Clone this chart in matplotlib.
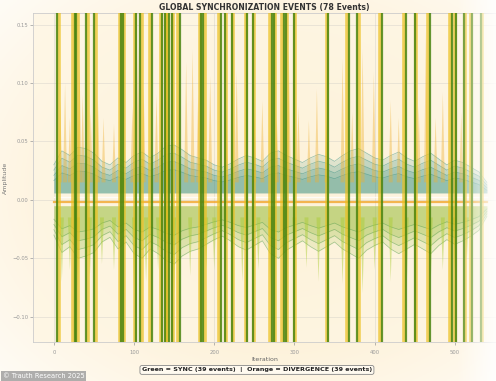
import numpy as np
import matplotlib
matplotlib.use('Agg')
import matplotlib.pyplot as plt

# event positions (iteration)
sync_events = [4, 26, 28, 40, 50, 84, 86, 103, 108, 122, 135, 138, 143, 147, 157,
               184, 186, 208, 213, 222, 241, 248, 272, 274, 287, 289, 299, 342, 368,
               378, 409, 439, 450, 469, 496, 502, 511, 522, 532]
div_events = [6, 24, 30, 42, 52, 82, 88, 101, 110, 120, 133, 140, 141, 149, 155,
              182, 188, 206, 215, 224, 239, 250, 270, 276, 285, 291, 301, 340, 366,
              380, 407, 437, 452, 467, 494, 500, 513, 520, 534]

# coarse envelope of the signal bundle, every 10 iterations
env_iter = list(range(0, 541, 10))
teal_top = [0.030, 0.042, 0.038, 0.045, 0.044, 0.040, 0.033, 0.030, 0.036, 0.032,
            0.038, 0.041, 0.036, 0.040, 0.046, 0.047, 0.043, 0.038, 0.036, 0.034,
            0.030, 0.028, 0.031, 0.035, 0.038, 0.036, 0.033, 0.040, 0.042, 0.038,
            0.035, 0.032, 0.036, 0.039, 0.037, 0.033, 0.038, 0.042, 0.044, 0.040,
            0.036, 0.034, 0.038, 0.041, 0.036, 0.033, 0.037, 0.040, 0.035, 0.030,
            0.034, 0.032, 0.028, 0.024, 0.015]
low_env = [-0.030, -0.045, -0.040, -0.050, -0.048, -0.045, -0.036, -0.032, -0.042, -0.036,
           -0.046, -0.050, -0.042, -0.046, -0.052, -0.055, -0.048, -0.044, -0.042, -0.038,
           -0.034, -0.031, -0.035, -0.040, -0.043, -0.039, -0.035, -0.046, -0.050, -0.043,
           -0.039, -0.035, -0.040, -0.044, -0.040, -0.036, -0.042, -0.046, -0.050, -0.043,
           -0.039, -0.036, -0.042, -0.046, -0.042, -0.038, -0.042, -0.046, -0.039, -0.034,
           -0.038, -0.035, -0.031, -0.026, -0.014]

# orange peaks above and green-yellow spikes below
up_spike_iter = [8, 14, 20, 32, 36, 46, 55, 62, 75, 98, 105, 112, 128, 140, 165, 173,
                 180, 195, 215, 228, 250, 260, 278, 293, 305, 318, 328, 340, 360, 372,
                 385, 399, 420, 430, 455, 464, 476, 485, 508, 520]
up_spike_amp = [0.085, 0.100, 0.070, 0.120, 0.090, 0.075, 0.084, 0.070, 0.065, 0.080,
                0.131, 0.096, 0.090, 0.075, 0.118, 0.129, 0.090, 0.106, 0.080, 0.110,
                0.075, 0.085, 0.070, 0.127, 0.080, 0.068, 0.095, 0.070, 0.121, 0.075,
                0.129, 0.109, 0.085, 0.070, 0.080, 0.144, 0.070, 0.092, 0.075, 0.060]
low_spike_iter = [10, 20, 30, 45, 60, 75, 100, 115, 130, 150, 170, 190, 200, 235, 255,
                  270, 300, 315, 330, 360, 385, 400, 420, 440, 470, 485, 500, 515]
low_spike_amp = [-0.070, -0.060, -0.075, -0.065, -0.055, -0.060, -0.078, -0.070, -0.060,
                 -0.080, -0.065, -0.058, -0.060, -0.070, -0.060, -0.075, -0.065, -0.058,
                 -0.070, -0.072, -0.080, -0.060, -0.070, -0.075, -0.070, -0.060, -0.060,
                 -0.050]

fig = plt.figure(figsize=(4.96, 3.81), dpi=100)

# background gradient
bg = fig.add_axes([0, 0, 1, 1], zorder=-10)
yy, xx = np.mgrid[0:1:200j, 0:1:260j]
r = np.sqrt(((xx - 0.55) / 0.75) ** 2 + ((yy - 0.5) / 0.75) ** 2)
t = np.clip(1.15 - r, 0, 1)[..., None]
c0 = np.array([1.0, 1.0, 1.0])
c1 = np.array([0.992, 0.918, 0.765])
bg.imshow(c0 + (c1 - c0) * t, aspect='auto', extent=[0, 1, 0, 1])
bg.axis('off')

ax = fig.add_axes([0.0665, 0.1024, 0.933, 0.8636])
ax.set_facecolor((0.996, 0.965, 0.89, 0.75))

top = np.array(teal_top)
low = np.array(low_env)

# signal bundle, denser towards the middle of the band
for k, a in [(1.0, 0.14), (0.85, 0.16), (0.7, 0.18), (0.55, 0.14)]:
    ax.fill_between(env_iter, 0.006, top * k, color='#2b8a7c', alpha=a, lw=0, zorder=2)
    ax.plot(env_iter, top * k, color='#2b8a7c', lw=0.5, alpha=0.5, zorder=2)
for k, a in [(1.0, 0.14), (0.85, 0.16), (0.7, 0.18), (0.55, 0.14)]:
    ax.fill_between(env_iter, -0.005, low * k, color='#8fb82a', alpha=a, lw=0, zorder=2)
    ax.plot(env_iter, low * k, color='#4f9a50', lw=0.5, alpha=0.5, zorder=2)
ax.plot([0, 540], [-0.0018, -0.0018], color='#f0a020', lw=1.6, alpha=0.75, zorder=3)
ax.plot([0, 540], [0.0025, 0.0025], color='white', lw=1.0, alpha=0.8, zorder=3)

for x, h in zip(up_spike_iter, up_spike_amp):
    ax.fill([x - 2.5, x, x + 2.5], [0.015, h, 0.015], color='#f0b030', alpha=0.4, lw=0, zorder=2)
for x, h in zip(low_spike_iter, low_spike_amp):
    ax.fill([x - 2.5, x, x + 2.5], [-0.015, h, -0.015], color='#a9cc30', alpha=0.45, lw=0, zorder=2)

# event lines
for x in div_events:
    ax.axvline(x, color='#ecc01c', lw=2.6, alpha=0.7, zorder=4)
for x in sync_events:
    ax.axvline(x, color='#4a8410', lw=1.6, alpha=0.85, zorder=5)

ax.set_xlim(-26, 551)
ax.set_ylim(-0.1216, 0.160)
ax.set_xticks([0, 100, 200, 300, 400, 500])
ax.set_yticks([-0.10, -0.05, 0.00, 0.05, 0.10, 0.15])
ax.set_yticklabels(['−0.10', '−0.05', '0.00', '0.05', '0.10', '0.15'])
ax.tick_params(labelsize=3.8, colors='#999999', length=2, width=0.5)
ax.tick_params(axis='y', pad=1.5)
ax.grid(True, color='#bbbbbb', lw=0.5, alpha=0.4)
ax.set_axisbelow(True)
for s in ax.spines.values():
    s.set_color('#cccccc')
    s.set_linewidth(0.6)

ax.set_title('GLOBAL SYNCHRONIZATION EVENTS (78 Events)', fontsize=5.6,
             fontweight='bold', color='#333333', pad=2)
ax.set_xlabel('Iteration', fontsize=4.5, color='#666666', labelpad=2)
ax.set_ylabel('Amplitude', fontsize=4.5, color='#777777', labelpad=3)

# white fade on the right edge
ov = fig.add_axes([0.92, 0, 0.08, 1], zorder=20)
fade = np.zeros((10, 100, 4))
fade[..., :3] = 1.0
fade[..., 3] = np.linspace(0, 0.85, 100)[None, :]
ov.imshow(fade, aspect='auto', extent=[0, 1, 0, 1])
ov.axis('off')

fig.text(0.518, 0.029, 'Green = SYNC (39 events)  |  Orange = DIVERGENCE (39 events)',
         ha='center', va='center', fontsize=4.6, fontweight='bold', color='#222222',
         bbox=dict(boxstyle='round,pad=0.3', fc='#fffaf0', ec='#888888', lw=0.6))
fig.text(0.006, 0.013, '© Trauth Research 2025', ha='left', va='center', fontsize=4.8,
         color='white', bbox=dict(boxstyle='square,pad=0.25', fc='#a0a0a0', ec='none', alpha=0.85))

fig.savefig('out.png', dpi=100)
